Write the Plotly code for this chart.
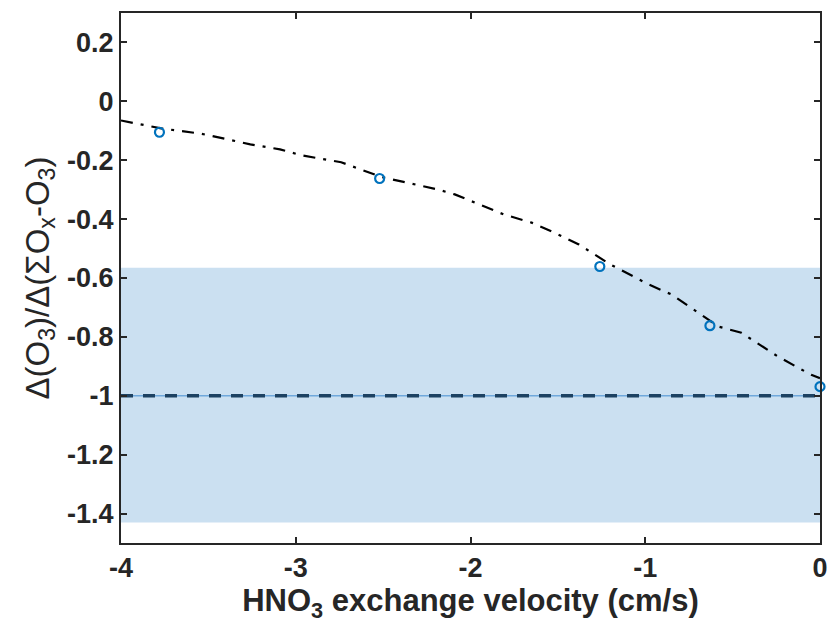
import plotly.graph_objects as go

# Data
pts_x = [-3.78, -2.52, -1.26, -0.63, 0.0]
pts_y = [-0.105, -0.262, -0.561, -0.762, -0.969]

curve_x = [-4.0, -3.77, -3.54, -3.26, -3.09, -2.97, -2.74, -2.51, -2.19, -2.09, -1.81,
           -1.65, -1.52, -1.38, -1.20, -0.98, -0.85, -0.70, -0.58, -0.45, -0.24, -0.05, 0.0]
curve_y = [-0.065, -0.092, -0.110, -0.146, -0.163, -0.183, -0.207, -0.257, -0.299, -0.316, -0.384,
           -0.412, -0.446, -0.486, -0.554, -0.622, -0.656, -0.718, -0.765, -0.786, -0.867, -0.929, -0.940]

band_lo, band_hi = -1.43, -0.565
ref_y = -1.0
x_range = [-4, 0]
y_range = [-1.5, 0.3]
y_ticks = [0.2, 0, -0.2, -0.4, -0.6, -0.8, -1, -1.2, -1.4]
y_ticklabels = ["0.2", "0", "-0.2", "-0.4", "-0.6", "-0.8", "-1", "-1.2", "-1.4"]
x_ticks = [-4, -3, -2, -1, 0]
x_ticklabels = ["-4", "-3", "-2", "-1", "0"]

FONT = "Liberation Sans, Arial, Helvetica"

fig = go.Figure()

# shaded band
fig.add_trace(go.Scatter(x=[x_range[0], x_range[1], x_range[1], x_range[0], x_range[0]],
                         y=[band_lo, band_lo, band_hi, band_hi, band_lo],
                         fill="toself", fillcolor="#cbe0f1", line=dict(width=0),
                         mode="lines", hoverinfo="skip", showlegend=False))
# thin reference line
fig.add_trace(go.Scatter(x=x_range, y=[ref_y, ref_y], mode="lines",
                         line=dict(color="#6fa8dc", width=1.5), showlegend=False))
# dashed reference line
fig.add_trace(go.Scatter(x=x_range, y=[ref_y, ref_y], mode="lines",
                         line=dict(color="#1d4262", width=3.5, dash="12px,10px"), showlegend=False))
# dash-dot curve
fig.add_trace(go.Scatter(x=curve_x, y=curve_y, mode="lines",
                         line=dict(color="black", width=2.2, dash="12px,8px,3px,8px"), showlegend=False))
# markers
fig.add_trace(go.Scatter(x=pts_x, y=pts_y, mode="markers",
                         marker=dict(symbol="circle-open", size=9, color="#0072BD",
                                     line=dict(width=2.2, color="#0072BD")),
                         cliponaxis=False, showlegend=False))

axis_common = dict(showgrid=False, zeroline=False, showline=True, linecolor="#262626",
                   linewidth=2, mirror="ticks", ticks="inside", ticklen=6, tickwidth=1.5,
                   tickcolor="#262626", automargin=False,
                   tickfont=dict(family=FONT, size=27, color="#262626", weight="bold"))

fig.update_xaxes(range=x_range, tickvals=x_ticks, ticktext=x_ticklabels,
                 title=dict(text="HNO<sub>3</sub> exchange velocity (cm/s)",
                            font=dict(family=FONT, size=31, color="#262626", weight="bold"),
                            standoff=6),
                 **axis_common)
fig.update_yaxes(range=y_range, tickvals=y_ticks, ticktext=y_ticklabels,
                 title=dict(text="Δ(O<sub>3</sub>)/Δ(ΣO<sub>x</sub>-O<sub>3</sub>)",
                            font=dict(family=FONT, size=33, color="#262626"),
                            standoff=8),
                 **axis_common)

fig.update_layout(width=828, height=627, margin=dict(l=121, r=8, t=13, b=84),
                  plot_bgcolor="white", paper_bgcolor="white")

fig.write_html("out.html")
